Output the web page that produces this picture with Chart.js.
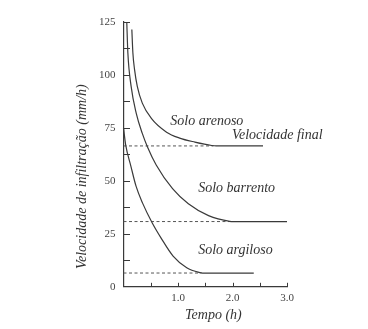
<!DOCTYPE html>
<html lang="pt">
<head>
<meta charset="UTF-8">
<title>Velocidade de infiltração</title>
<script src="https://cdn.jsdelivr.net/npm/chart.js@4.4.1/dist/chart.umd.min.js"></script>
<style>
    body {
        margin: 0;
        background: #fff;
    }
    #wrap {
        width: 368px;
        height: 329px;
    }
</style>
</head>
<body>
<div id="wrap"><canvas id="infil" width="368" height="329"></canvas></div>
<script>
// curvas de infiltração (tempo em h, velocidade em mm/h)
const arenosoT = [0.153, 0.172, 0.203, 0.253, 0.345, 0.511, 0.79, 1.03, 1.31, 1.62, 1.7, 2.56];
const arenosoV = [121.5, 110.5, 102.5, 94.6, 86.7, 79.5, 73, 70.2, 68.3, 66.7, 66.5, 66.5];

const barrentoT = [0.06, 0.08, 0.14, 0.234, 0.345, 0.44, 0.6, 0.9, 1.19, 1.56, 1.95, 2.02, 3.0];
const barrentoV = [125, 110.5, 94.6, 81.9, 72.4, 66, 57.5, 46.3, 39.2, 33.6, 30.9, 30.8, 30.8];

const argilosoT = [0.0, 0.04, 0.135, 0.23, 0.35, 0.53, 0.69, 0.91, 1.16, 1.4, 1.45, 2.39];
const argilosoV = [75, 67, 57, 47.5, 39.5, 30, 23, 14.5, 9.0, 6.7, 6.5, 6.5];

// velocidade final de cada solo (linhas tracejadas)
const finalV = [66.5, 30.8, 6.5];
const finalEnd = [1.65, 2.0, 1.43];

const yTicks = [0, 25, 50, 75, 100, 125];
const xTicks = [1.0, 2.0, 3.0];

const serif = '"Liberation Serif", "DejaVu Serif", serif';
const ink = '#3a3a3a';

function pts(ts, vs) {
    return ts.map((t, i) => ({ x: t, y: vs[i] }));
}

function curve(label, ts, vs) {
    return {
        label: label,
        data: pts(ts, vs),
        borderColor: ink,
        borderWidth: 1.2,
        pointRadius: 0,
        cubicInterpolationMode: 'monotone',
        fill: false,
        clip: false
    };
}

const dashed = finalV.map((v, i) => ({
    label: 'final ' + i,
    data: [{ x: 0, y: v }, { x: finalEnd[i], y: v }],
    borderColor: '#555',
    borderWidth: 1,
    borderDash: [3, 2.5],
    pointRadius: 0,
    fill: false
}));

// textos sobre o gráfico, ancorados em coordenadas de dados
const notes = [
    { text: 'Solo arenoso', x: 0.86, y: 77.9 },
    { text: 'Velocidade final', x: 1.99, y: 71.6 },
    { text: 'Solo barrento', x: 1.37, y: 46.3 },
    { text: 'Solo argiloso', x: 1.37, y: 17.4 }
];

const decor = {
    id: 'decor',
    afterDatasetsDraw(chart) {
        const ctx = chart.ctx;
        const xs = chart.scales.x;
        const ys = chart.scales.y;
        const area = chart.chartArea;
        ctx.save();

        // marcas dos eixos, voltadas para dentro
        ctx.strokeStyle = ink;
        ctx.lineWidth = 1;
        ys.ticks.forEach(t => {
            if (t.value === 0) return;
            const py = Math.round(ys.getPixelForValue(t.value)) + 0.5;
            ctx.beginPath();
            ctx.moveTo(area.left, py);
            ctx.lineTo(area.left + 6.5, py);
            ctx.stroke();
        });
        xs.ticks.forEach(t => {
            if (t.value === 0) return;
            const px = Math.round(xs.getPixelForValue(t.value)) + 0.5;
            ctx.beginPath();
            ctx.moveTo(px, area.bottom);
            ctx.lineTo(px, area.bottom - 4);
            ctx.stroke();
        });

        // rótulos das curvas
        ctx.fillStyle = '#333';
        ctx.font = 'italic 14px ' + serif;
        ctx.textBaseline = 'middle';
        ctx.textAlign = 'left';
        notes.forEach(n => {
            ctx.fillText(n.text, xs.getPixelForValue(n.x), ys.getPixelForValue(n.y));
        });

        // títulos dos eixos
        ctx.textAlign = 'center';
        ctx.fillText('Tempo (h)', xs.getPixelForValue(1.65), 315);
        ctx.translate(82, ys.getPixelForValue(52));
        ctx.rotate(-Math.PI / 2);
        ctx.fillText('Velocidade de infiltração (mm/h)', 0, 0);
        ctx.restore();
    }
};

new Chart(document.getElementById('infil'), {
    type: 'line',
    data: {
        datasets: [
            curve('Solo arenoso', arenosoT, arenosoV),
            curve('Solo barrento', barrentoT, barrentoV),
            curve('Solo argiloso', argilosoT, argilosoV),
            ...dashed
        ]
    },
    options: {
        responsive: false,
        animation: false,
        layout: {
            padding: { left: 91, right: 81, top: 22, bottom: 19 }
        },
        plugins: {
            legend: { display: false },
            tooltip: { enabled: false }
        },
        scales: {
            x: {
                type: 'linear',
                min: 0,
                max: 3,
                grid: { display: false, drawTicks: false },
                border: { color: ink, width: 1.2 },
                ticks: {
                    stepSize: 0.5,
                    padding: 5,
                    color: '#444',
                    font: { family: serif, size: 11 },
                    autoSkip: false,
                    maxRotation: 0,
                    callback: v => xTicks.includes(v) ? v.toFixed(1) : ''
                }
            },
            y: {
                min: 0,
                max: 125,
                grid: { display: false, drawTicks: false },
                border: { color: ink, width: 1.2 },
                ticks: {
                    stepSize: 12.5,
                    padding: 8,
                    color: '#444',
                    font: { family: serif, size: 11 },
                    autoSkip: false,
                    callback: v => yTicks.includes(v) ? String(v) : ''
                }
            }
        }
    },
    plugins: [decor]
});
</script>
</body>
</html>
